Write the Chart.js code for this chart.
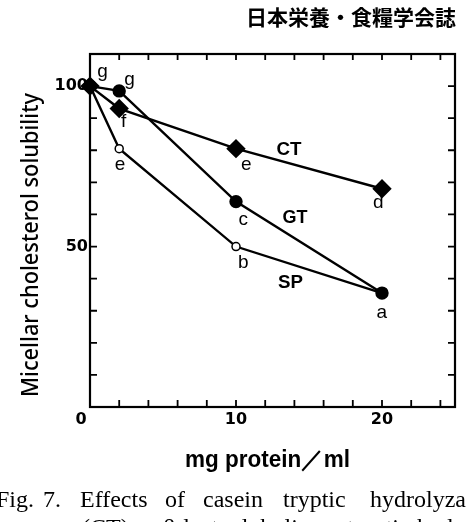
<!DOCTYPE html>
<html>
<head>
<meta charset="utf-8">
<script src="https://cdn.jsdelivr.net/npm/chart.js@4.4.1/dist/chart.umd.min.js"></script>
<style>
  html, body { margin: 0; padding: 0; background: #fff; }
  #wrap { width: 466px; height: 522px; position: relative; }
</style>
</head>
<body>
<div id="wrap"><canvas id="chart" width="466" height="522"></canvas></div>
<script>
// Protein concentration (mg/ml) on the x axis
const protein = [0, 2, 10, 20];

// Micellar cholesterol solubility for each hydrolyzate
const ctValues = [100, 93, 80.5, 68];
const gtValues = [100, 98.5, 64, 35.5];
const spValues = [100, 80.5, 50, 35.5];

// Tick labels shown on the axes
const xTickLabels = [10, 20];
const yTickLabels = [50, 100];

// Letters next to the points (data coordinates)
const pointNotes = [
    ['g', 0.85, 104.5], ['g', 2.7, 102], ['f', 2.3, 89], ['e', 2.05, 75.5],
    ['e', 10.7, 75.5], ['c', 10.5, 58.3], ['b', 10.5, 44.8],
    ['d', 19.75, 63.6], ['a', 19.98, 29.4]
];
const seriesNotes = [['CT', 13.6, 80.2], ['GT', 14.0, 59], ['SP', 13.7, 38.5]];

const SANS = '"Liberation Sans", Arial, sans-serif';
const SERIF = '"Liberation Serif", "Times New Roman", serif';

// draw text squeezed/stretched to a given width
function fillFit(ctx, text, x, y, width) {
    const w = ctx.measureText(text).width;
    ctx.save();
    ctx.translate(x, y);
    ctx.scale(width / w, 1);
    ctx.textAlign = 'left';
    ctx.fillText(text, 0, 0);
    ctx.restore();
}

const toData = (xs, ys) => xs.map((x, i) => ({ x: x, y: ys[i] }));

// Frame with inward ticks, drawn under the lines
const framePlugin = {
    id: 'frame',
    beforeDatasetsDraw(chart) {
        const { ctx, chartArea: a, scales: { x, y } } = chart;
        ctx.save();
        ctx.strokeStyle = '#000';
        ctx.lineWidth = 2.2;
        ctx.strokeRect(a.left, a.top, a.right - a.left, a.bottom - a.top);
        ctx.lineWidth = 1.8;
        ctx.beginPath();
        for (let v = 2; v < 25; v += 2) {
            const px = x.getPixelForValue(v);
            ctx.moveTo(px, a.bottom); ctx.lineTo(px, a.bottom - 7);
            ctx.moveTo(px, a.top); ctx.lineTo(px, a.top + 6);
        }
        for (let v = 10; v < 110; v += 10) {
            const py = y.getPixelForValue(v);
            ctx.moveTo(a.left, py); ctx.lineTo(a.left + 7, py);
            ctx.moveTo(a.right, py); ctx.lineTo(a.right - 7, py);
        }
        ctx.stroke();
        ctx.restore();
    },
    afterDraw(chart) {
        const { ctx, chartArea: a, scales: { x, y } } = chart;
        ctx.save();
        ctx.fillStyle = '#000';

        // tick labels
        ctx.font = 'bold 16px "DejaVu Sans", sans-serif';
        ctx.textBaseline = 'middle';
        ctx.textAlign = 'center';
        xTickLabels.forEach(v => ctx.fillText(String(v), x.getPixelForValue(v), a.bottom + 13));
        ctx.fillText('0', a.left - 9, a.bottom + 13);
        ctx.textAlign = 'right';
        yTickLabels.forEach(v => ctx.fillText(String(v), a.left - 2, y.getPixelForValue(v)));

        // point letters
        ctx.textAlign = 'center';
        ctx.font = '19px ' + SANS;
        pointNotes.forEach(([t, vx, vy]) => ctx.fillText(t, x.getPixelForValue(vx), y.getPixelForValue(vy)));
        ctx.font = 'bold 18px ' + SANS;
        seriesNotes.forEach(([t, vx, vy]) => fillFit(ctx, t, x.getPixelForValue(vx) - 12, y.getPixelForValue(vy), 25));

        // axis titles
        ctx.textBaseline = 'alphabetic';
        ctx.font = 'bold 23px ' + SANS;
        fillFit(ctx, 'mg protein\uFF0Fml', 185, 467, 165);
        ctx.font = '500 23px "Noto Sans", ' + SANS;
        ctx.save();
        ctx.translate(38, 397);
        ctx.rotate(-Math.PI / 2);
        fillFit(ctx, 'Micellar cholesterol solubility', 0, 0, 304);
        ctx.restore();

        // journal header
        ctx.font = 'bold 21px "Noto Sans CJK JP", sans-serif';
        ctx.textAlign = 'right';
        ctx.textBaseline = 'middle';
        ctx.fillText('日本栄養・食糧学会誌', 456, 17);

        // caption (cut off at the page edge)
        ctx.textBaseline = 'alphabetic';
        ctx.textAlign = 'left';
        ctx.font = '24px ' + SERIF;
        [['Fig.', -4], ['7.', 43], ['Effects', 80], ['of', 165], ['casein', 203],
         ['tryptic', 283], ['hydrolyzate', 370]].forEach(([t, px]) => ctx.fillText(t, px, 507));
        [['(CT),', 82], ['\u03B2-lactoglobulin', 163], ['tryptic', 347], ['hydrolyzate', 417]]
            .forEach(([t, px]) => ctx.fillText(t, px, 535));
        ctx.restore();
    }
};

const lineStyle = { borderColor: '#000', borderWidth: 2.4, tension: 0, clip: false };

new Chart(document.getElementById('chart').getContext('2d'), {
    type: 'line',
    data: {
        datasets: [
            {
                ...lineStyle, label: 'CT', data: toData(protein, ctValues),
                pointStyle: 'rectRot', pointRadius: 8, pointBackgroundColor: '#000', pointBorderColor: '#000'
            },
            {
                ...lineStyle, label: 'GT', data: toData(protein, gtValues),
                pointStyle: 'circle', pointRadius: 5.5, pointBackgroundColor: '#000', pointBorderColor: '#000'
            },
            {
                ...lineStyle, label: 'SP', data: toData(protein, spValues),
                pointStyle: 'circle', pointRadius: 4, pointBackgroundColor: '#fff', pointBorderColor: '#000',
                pointBorderWidth: 1.5
            }
        ]
    },
    options: {
        responsive: false,
        animation: false,
        layout: { padding: { left: 90, top: 54, right: 11, bottom: 115 } },
        plugins: { legend: { display: false }, tooltip: { enabled: false } },
        scales: {
            x: { type: 'linear', min: 0, max: 25, display: false },
            y: { type: 'linear', min: 0, max: 110, display: false }
        }
    },
    plugins: [framePlugin]
});
</script>
</body>
</html>
